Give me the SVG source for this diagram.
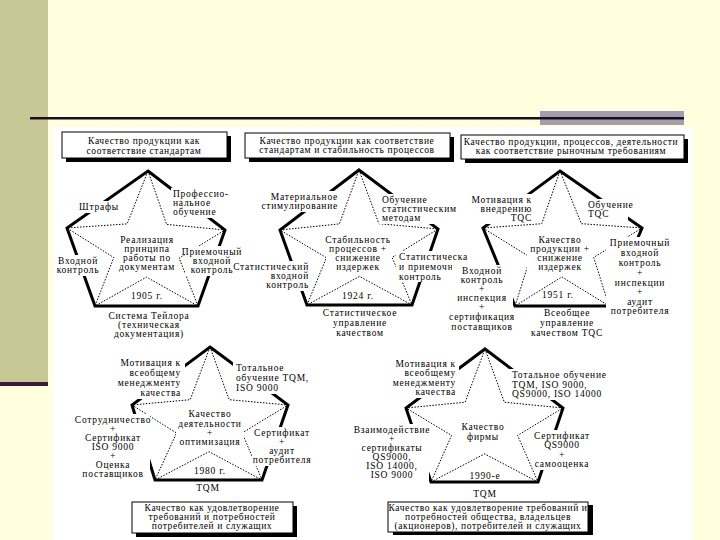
<svg xmlns="http://www.w3.org/2000/svg" width="720" height="540" viewBox="0 0 720 540">
<style>
.t{font-family:"Liberation Serif","Times New Roman",serif;font-size:9.5px;letter-spacing:0.75px;fill:#000}
.bt{font-family:"Liberation Serif","Times New Roman",serif;font-size:9.5px;letter-spacing:0.6px;fill:#000;text-anchor:middle}
.m{text-anchor:middle}.e{text-anchor:end}
.bg{fill:#fff}
.pent{fill:none;stroke:#000;stroke-width:3;stroke-linejoin:miter}
.star{fill:none;stroke:#000;stroke-width:1;stroke-dasharray:1.5 1.5}
.box{fill:#fff;stroke:#000;stroke-width:1}
.sh{fill:#000}
</style>
<rect x="0" y="0" width="720" height="540" fill="#FFFFDF"/>
<rect x="0" y="0" width="48" height="382" fill="#C8C896"/>
<rect x="0" y="382" width="48" height="4" fill="#3A1A38"/>
<rect x="53" y="127" width="640" height="413" fill="#FFFFFF"/>
<rect x="540" y="111" width="144" height="14" fill="#A39DB0"/>
<rect x="30" y="117" width="654" height="2.5" fill="#1C0F1C"/>

<g id="box-1905">
<rect class="sh" x="66" y="136" width="165" height="26"/>
<rect class="box" x="62" y="132" width="165" height="26"/>
<text class="bt"><tspan x="144" y="144">Качество продукции как</tspan><tspan x="144" y="154">соответствие стандартам</tspan></text>
</g>
<g id="box-1924">
<rect class="sh" x="249" y="137" width="205" height="25"/>
<rect class="box" x="245" y="133" width="205" height="25"/>
<text class="bt"><tspan x="347" y="144">Качество продукции как соответствие</tspan><tspan x="347" y="153">стандартам и стабильность процессов</tspan></text>
</g>
<g id="box-1951">
<rect class="sh" x="465" y="139" width="223" height="24"/>
<rect class="box" x="461" y="135" width="223" height="24"/>
<text class="bt"><tspan x="571" y="145">Качество продукции, процессов, деятельности</tspan><tspan x="571" y="154">как соответствие рыночным требованиям</tspan></text>
</g>
<g id="box-1980">
<rect class="sh" x="136" y="506" width="161" height="31"/>
<rect class="box" x="132" y="502" width="161" height="31"/>
<text class="bt"><tspan x="212" y="511">Качество как удовлетворение</tspan><tspan x="212" y="520">требований и потребностей</tspan><tspan x="212" y="529">потребителей и служащих</tspan></text>
</g>
<g id="box-1990">
<rect class="sh" x="393" y="505" width="200" height="30"/>
<rect class="box" x="388" y="502" width="200" height="30"/>
<text class="bt"><tspan x="488" y="511">Качество как удовлетворение требований и</tspan><tspan x="488" y="520">потребностей общества, владельцев</tspan><tspan x="488" y="529">(акционеров), потребителей и служащих</tspan></text>
</g>

<g id="connectors">
<polygon class="star" points="148,171 166.6,224.4 225,230 179.1,258.1 198,306 146.6,277.1 95,306 113.8,257.6 67,228 127.1,223.9"/>
<polygon class="star" points="359,170 378.9,223.7 438,229 392.1,257.4 412,305 359.4,276.4 307,305 326.4,257.7 280,230 339.4,223.9"/>
<polygon class="star" points="560,171 581.4,223.7 642,228 593.7,257.4 609,306 561.9,276.9 515,306 530.4,257.4 483,228 541.7,223.7"/>
<polygon class="star" points="210,347 229.2,399.7 288,405 242.2,433 262,480 209,451.7 155,480 176.5,433 132,405 190.2,399.7"/>
<polygon class="star" points="485,349 504.3,402.2 563,408 517.6,435.4 538,482 484.6,453.9 431,482 451.6,435.4 406,408 465.1,402.2"/>
<polygon class="pent" points="148,171 225,230 198,306 95,306 67,228"/>
<polygon class="pent" points="359,170 438,229 412,305 307,305 280,230"/>
<polygon class="pent" points="560,171 642,228 609,306 515,306 483,228"/>
<polygon class="pent" points="210,347 288,405 262,480 155,480 132,405"/>
<polygon class="pent" points="485,349 563,408 538,482 431,482 406,408"/>
</g>

<g id="stage-1905">
<rect class="bg" x="78" y="201" width="42" height="12"/>
<text class="t m" x="99" y="210">Штрафы</text>
<rect class="bg" x="171" y="188" width="59" height="30"/>
<text class="t"><tspan x="173" y="197">Профессио-</tspan><tspan x="173" y="206">нальное</tspan><tspan x="173" y="215">обучение</tspan></text>
<rect class="bg" x="118" y="234" width="58" height="39"/>
<text class="t m"><tspan x="147" y="243">Реализация</tspan><tspan x="147" y="252">принципа</tspan><tspan x="147" y="261">работы по</tspan><tspan x="147" y="270">документам</tspan></text>
<rect class="bg" x="54" y="255" width="48" height="21"/>
<text class="t m"><tspan x="78" y="264">Входной</tspan><tspan x="78" y="273">контроль</tspan></text>
<rect class="bg" x="185" y="246" width="50" height="30"/>
<text class="t m"><tspan x="212" y="255">Приемочный</tspan><tspan x="212" y="264">входной</tspan><tspan x="212" y="273">контроль</tspan></text>
<text class="t m" x="147" y="299">1905 г.</text>
<text class="t m"><tspan x="149" y="319">Система Тейлора</tspan><tspan x="149" y="328">(техническая</tspan><tspan x="149" y="337">документация)</tspan></text>
</g>

<g id="stage-1924">
<rect class="bg" x="262" y="191" width="79" height="21"/>
<text class="t e"><tspan x="338" y="200">Материальное</tspan><tspan x="338" y="209">стимулирование</tspan></text>
<rect class="bg" x="379" y="194" width="73" height="30"/>
<text class="t"><tspan x="382" y="203">Обучение</tspan><tspan x="382" y="212">статистическим</tspan><tspan x="382" y="221">методам</tspan></text>
<rect class="bg" x="326" y="234" width="66" height="39"/>
<text class="t m"><tspan x="358" y="243">Стабильность</tspan><tspan x="358" y="252">процессов +</tspan><tspan x="358" y="261">снижение</tspan><tspan x="358" y="270">издержек</tspan></text>
<rect class="bg" x="237" y="261" width="75" height="30"/>
<text class="t e"><tspan x="309" y="270">Статистический</tspan><tspan x="309" y="279">входной</tspan><tspan x="309" y="288">контроль</tspan></text>
<rect class="bg" x="396" y="251" width="66" height="31"/>
<text class="t"><tspan x="399" y="260">Статистическа</tspan><tspan x="399" y="270">и приемочнь</tspan><tspan x="399" y="280">контроль</tspan></text>
<text class="t m" x="358" y="299">1924 г.</text>
<text class="t m"><tspan x="360" y="316">Статистическое</tspan><tspan x="360" y="326">управление</tspan><tspan x="360" y="336">качеством</tspan></text>
</g>

<g id="stage-1951">
<rect class="bg" x="470" y="194" width="65" height="30"/>
<text class="t e"><tspan x="532" y="203">Мотивация к</tspan><tspan x="532" y="212">внедрению</tspan><tspan x="532" y="221">TQC</tspan></text>
<rect class="bg" x="585" y="199" width="43" height="21"/>
<text class="t"><tspan x="588" y="208">Обучение</tspan><tspan x="588" y="217">TQC</tspan></text>
<rect class="bg" x="527" y="234" width="66" height="39"/>
<text class="t m"><tspan x="560" y="243">Качество</tspan><tspan x="560" y="252">продукции +</tspan><tspan x="560" y="261">снижение</tspan><tspan x="560" y="270">издержек</tspan></text>
<rect class="bg" x="452" y="265" width="61" height="67"/>
<text class="t m"><tspan x="482" y="274">Входной</tspan><tspan x="482" y="283">контроль</tspan><tspan x="482" y="292">+</tspan><tspan x="482" y="301">инспекция</tspan><tspan x="482" y="310">+</tspan><tspan x="482" y="320">сертификация</tspan><tspan x="482" y="330">поставщиков</tspan></text>
<rect class="bg" x="606" y="237" width="68" height="80"/>
<text class="t m"><tspan x="640" y="246">Приемочный</tspan><tspan x="640" y="256">входной</tspan><tspan x="640" y="266">контроль</tspan><tspan x="640" y="276">+</tspan><tspan x="640" y="286">инспекции</tspan><tspan x="640" y="295">+</tspan><tspan x="640" y="305">аудит</tspan><tspan x="640" y="314">потребителя</tspan></text>
<text class="t m" x="558" y="298">1951 г.</text>
<text class="t m"><tspan x="567" y="316">Всеобщее</tspan><tspan x="567" y="326">управление</tspan><tspan x="567" y="336">качеством TQC</tspan></text>
</g>

<g id="stage-1980">
<rect class="bg" x="116" y="357" width="69" height="42"/>
<text class="t e"><tspan x="181" y="366">Мотивация к</tspan><tspan x="181" y="376">всеобщему</tspan><tspan x="181" y="386">менеджменту</tspan><tspan x="181" y="396">качества</tspan></text>
<rect class="bg" x="233" y="362" width="69" height="32"/>
<text class="t"><tspan x="236" y="371">Тотальное</tspan><tspan x="236" y="381">обучение TQM,</tspan><tspan x="236" y="391">ISO 9000</tspan></text>
<rect class="bg" x="176" y="408" width="68" height="40"/>
<text class="t m"><tspan x="210" y="417">Качество</tspan><tspan x="210" y="427">деятельности</tspan><tspan x="210" y="436">+</tspan><tspan x="210" y="445">оптимизация</tspan></text>
<rect class="bg" x="72" y="414" width="78" height="67"/>
<text class="t m"><tspan x="113" y="423">Сотрудничество</tspan><tspan x="113" y="432">+</tspan><tspan x="113" y="441">Сертификат</tspan><tspan x="113" y="450">ISO 9000</tspan><tspan x="113" y="459">+</tspan><tspan x="113" y="468">Оценка</tspan><tspan x="113" y="477">поставщиков</tspan></text>
<rect class="bg" x="252" y="427" width="62" height="39"/>
<text class="t m"><tspan x="282" y="436">Сертификат</tspan><tspan x="282" y="445">+</tspan><tspan x="282" y="454">аудит</tspan><tspan x="282" y="463">потребителя</tspan></text>
<text class="t m" x="210" y="474">1980 г.</text>
<text class="t m" x="208" y="491">TQM</text>
</g>

<g id="stage-1990">
<rect class="bg" x="396" y="358" width="63" height="40"/>
<text class="t e"><tspan x="456" y="367">Мотивация к</tspan><tspan x="456" y="376">всеобщему</tspan><tspan x="456" y="386">менеджменту</tspan><tspan x="456" y="395">качества</tspan></text>
<rect class="bg" x="509" y="369" width="93" height="31"/>
<text class="t"><tspan x="512" y="378">Тотальное обучение</tspan><tspan x="512" y="388">TQM, ISO 9000,</tspan><tspan x="512" y="397">QS9000, ISO 14000</tspan></text>
<rect class="bg" x="460" y="421" width="47" height="22"/>
<text class="t m"><tspan x="483" y="430">Качество</tspan><tspan x="483" y="440">фирмы</tspan></text>
<rect class="bg" x="353" y="424" width="76" height="57"/>
<text class="t m"><tspan x="392" y="433">Взаимодействие</tspan><tspan x="392" y="442">+</tspan><tspan x="392" y="451">сертификаты</tspan><tspan x="392" y="460">QS9000,</tspan><tspan x="392" y="469">ISO 14000,</tspan><tspan x="392" y="478">ISO 9000</tspan></text>
<rect class="bg" x="533" y="430" width="59" height="40"/>
<text class="t m"><tspan x="562" y="439">Сертификат</tspan><tspan x="562" y="448">QS9000</tspan><tspan x="562" y="458">+</tspan><tspan x="562" y="467">самооценка</tspan></text>
<text class="t m" x="485" y="479">1990-е</text>
<text class="t m" x="485" y="497">TQM</text>
</g>
</svg>
